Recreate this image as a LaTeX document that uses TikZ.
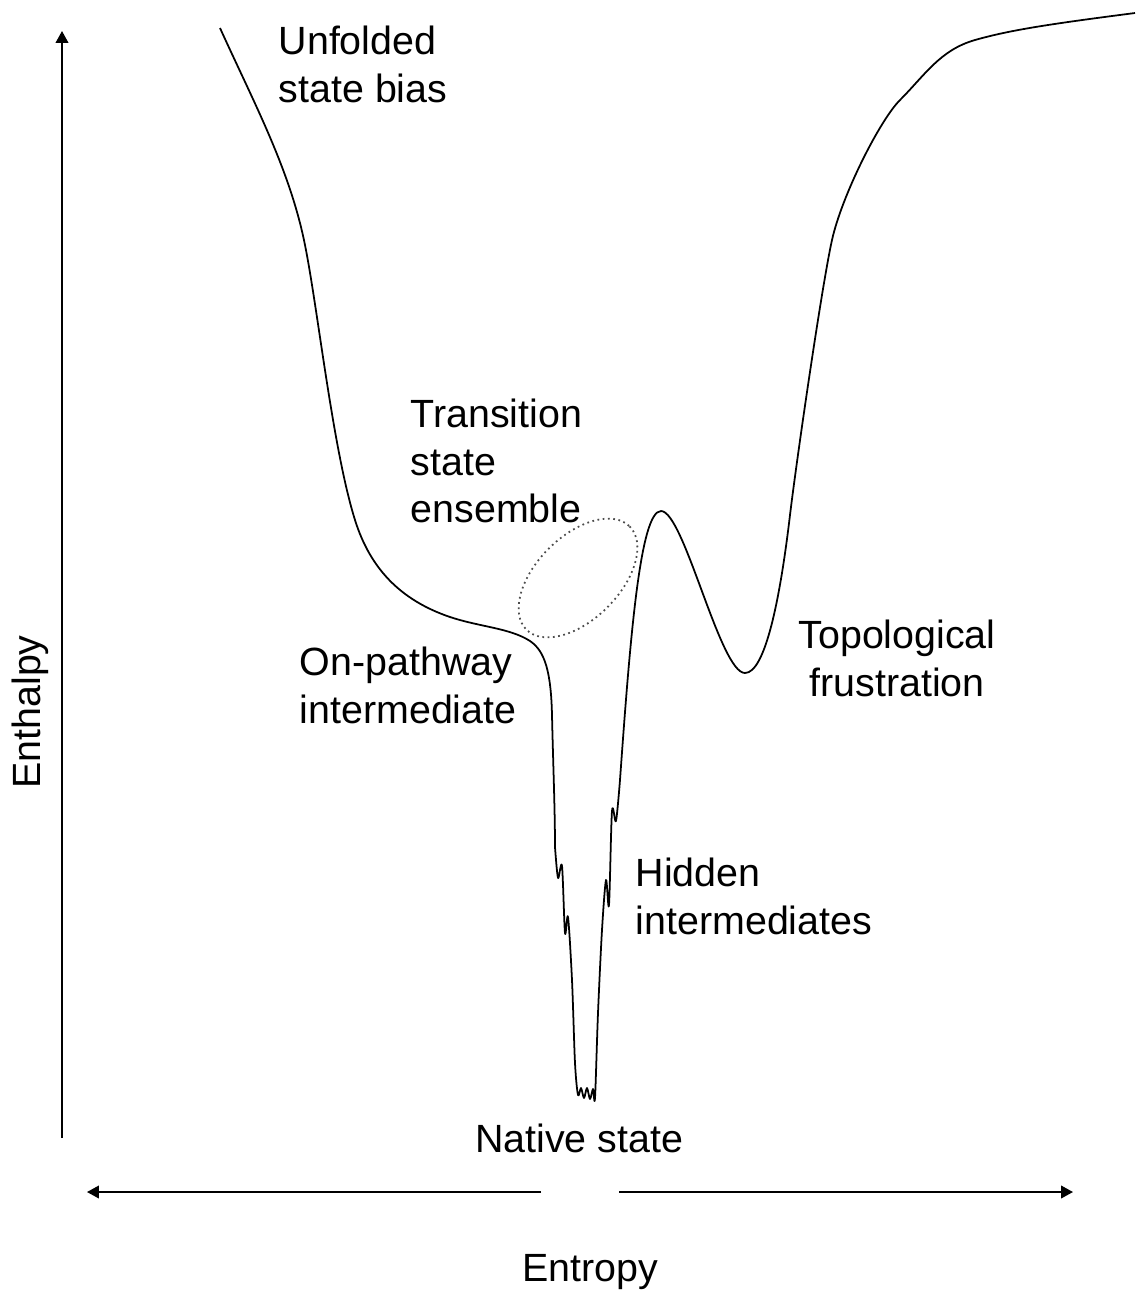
\documentclass[tikz,border=0pt]{standalone}
\usepackage{fontspec}
\setmainfont{Liberation Sans}
\usetikzlibrary{positioning}
\usetikzlibrary{arrows.meta}

\begin{document}
\begin{tikzpicture}[x=0.01cm,y=-0.01cm,
      txt/.style={font=\fontsize{11.2}{13.6}\selectfont,inner sep=0pt,align=left},
      axis/.style={line width=0.5pt,-{Triangle[length=3.4pt,width=3.6pt]}},
      landscape/.style={line width=0.5pt,line join=round}]
    \useasboundingbox (0,0) rectangle (1135,1296);
    % axes
    \coordinate (enthlow) at (62,1138);
    \coordinate (enthtop) at (62,31);
    \coordinate (entleft) at (541,1192);
    \coordinate (entleftend) at (87,1192);
    \coordinate (entright) at (619,1192);
    \coordinate (entrightend) at (1073,1192);
    \draw[axis] (enthlow) -- (enthtop);
    \draw[axis] (entleft) -- (entleftend);
    \draw[axis] (entright) -- (entrightend);
    % energy landscape
    \draw[landscape] (220,28) .. controls (255,105) and (290,170) .. (305,245)
      .. controls (318,310) and (333,450) .. (355,520)
      .. controls (370,568) and (400,600) .. (450,617)
      .. controls (480,627) and (510,628) .. (530,641)
      .. controls (545,651) and (551,672) .. (552,715)
      .. controls (553,760) and (555,810) .. (555,847)
      -- plot[smooth,tension=0.5] coordinates {
      (555,847) (558,878) (562,866) (565,933) (568,917)
      (572,980) (575,1063) (578,1095) (581,1088) (584,1098) (587,1088)
      (590,1099) (593,1089) (595,1098) (598,1013) (602,930) (606,880)
      (609,905) (612,811) (616,821) (620,780)}
      -- (620,780) .. controls (630,640) and (640,511) .. (661,511)
      .. controls (684,511) and (720,673) .. (745,673)
      .. controls (765,673) and (780,600) .. (790,515)
      .. controls (797,457) and (822,285) .. (832,240)
      .. controls (842,195) and (880,120) .. (900,100)
      .. controls (925,75) and (940,50) .. (975,40)
      .. controls (1010,30) and (1050,24) .. (1135,13);
    \draw[line width=0.5pt,densely dotted,gray!60!black] (578,578) ellipse [x radius=73,y radius=41.5,rotate=45];
    % labels
    \node[txt,anchor=west] (unfolded) at (278,64) {Unfolded\\state bias};
    \node[txt,anchor=west] (tse) at (410,461) {Transition\\state\\ensemble};
    \node[txt,anchor=west] (onpath) at (299,685) {On-pathway\\intermediate};
    \node[txt,align=center] (topo) at (897,658) {Topological\\frustration};
    \node[txt,anchor=west] (hidden) at (635,896) {Hidden\\intermediates};
    \node[txt] (native) at (579,1138) {Native state};
    \node[txt] (entropy) at (590,1272) {Entropy};
    \node[txt,rotate=90] (enthalpy) at (30,712) {Enthalpy};
  \end{tikzpicture}
\end{document}
